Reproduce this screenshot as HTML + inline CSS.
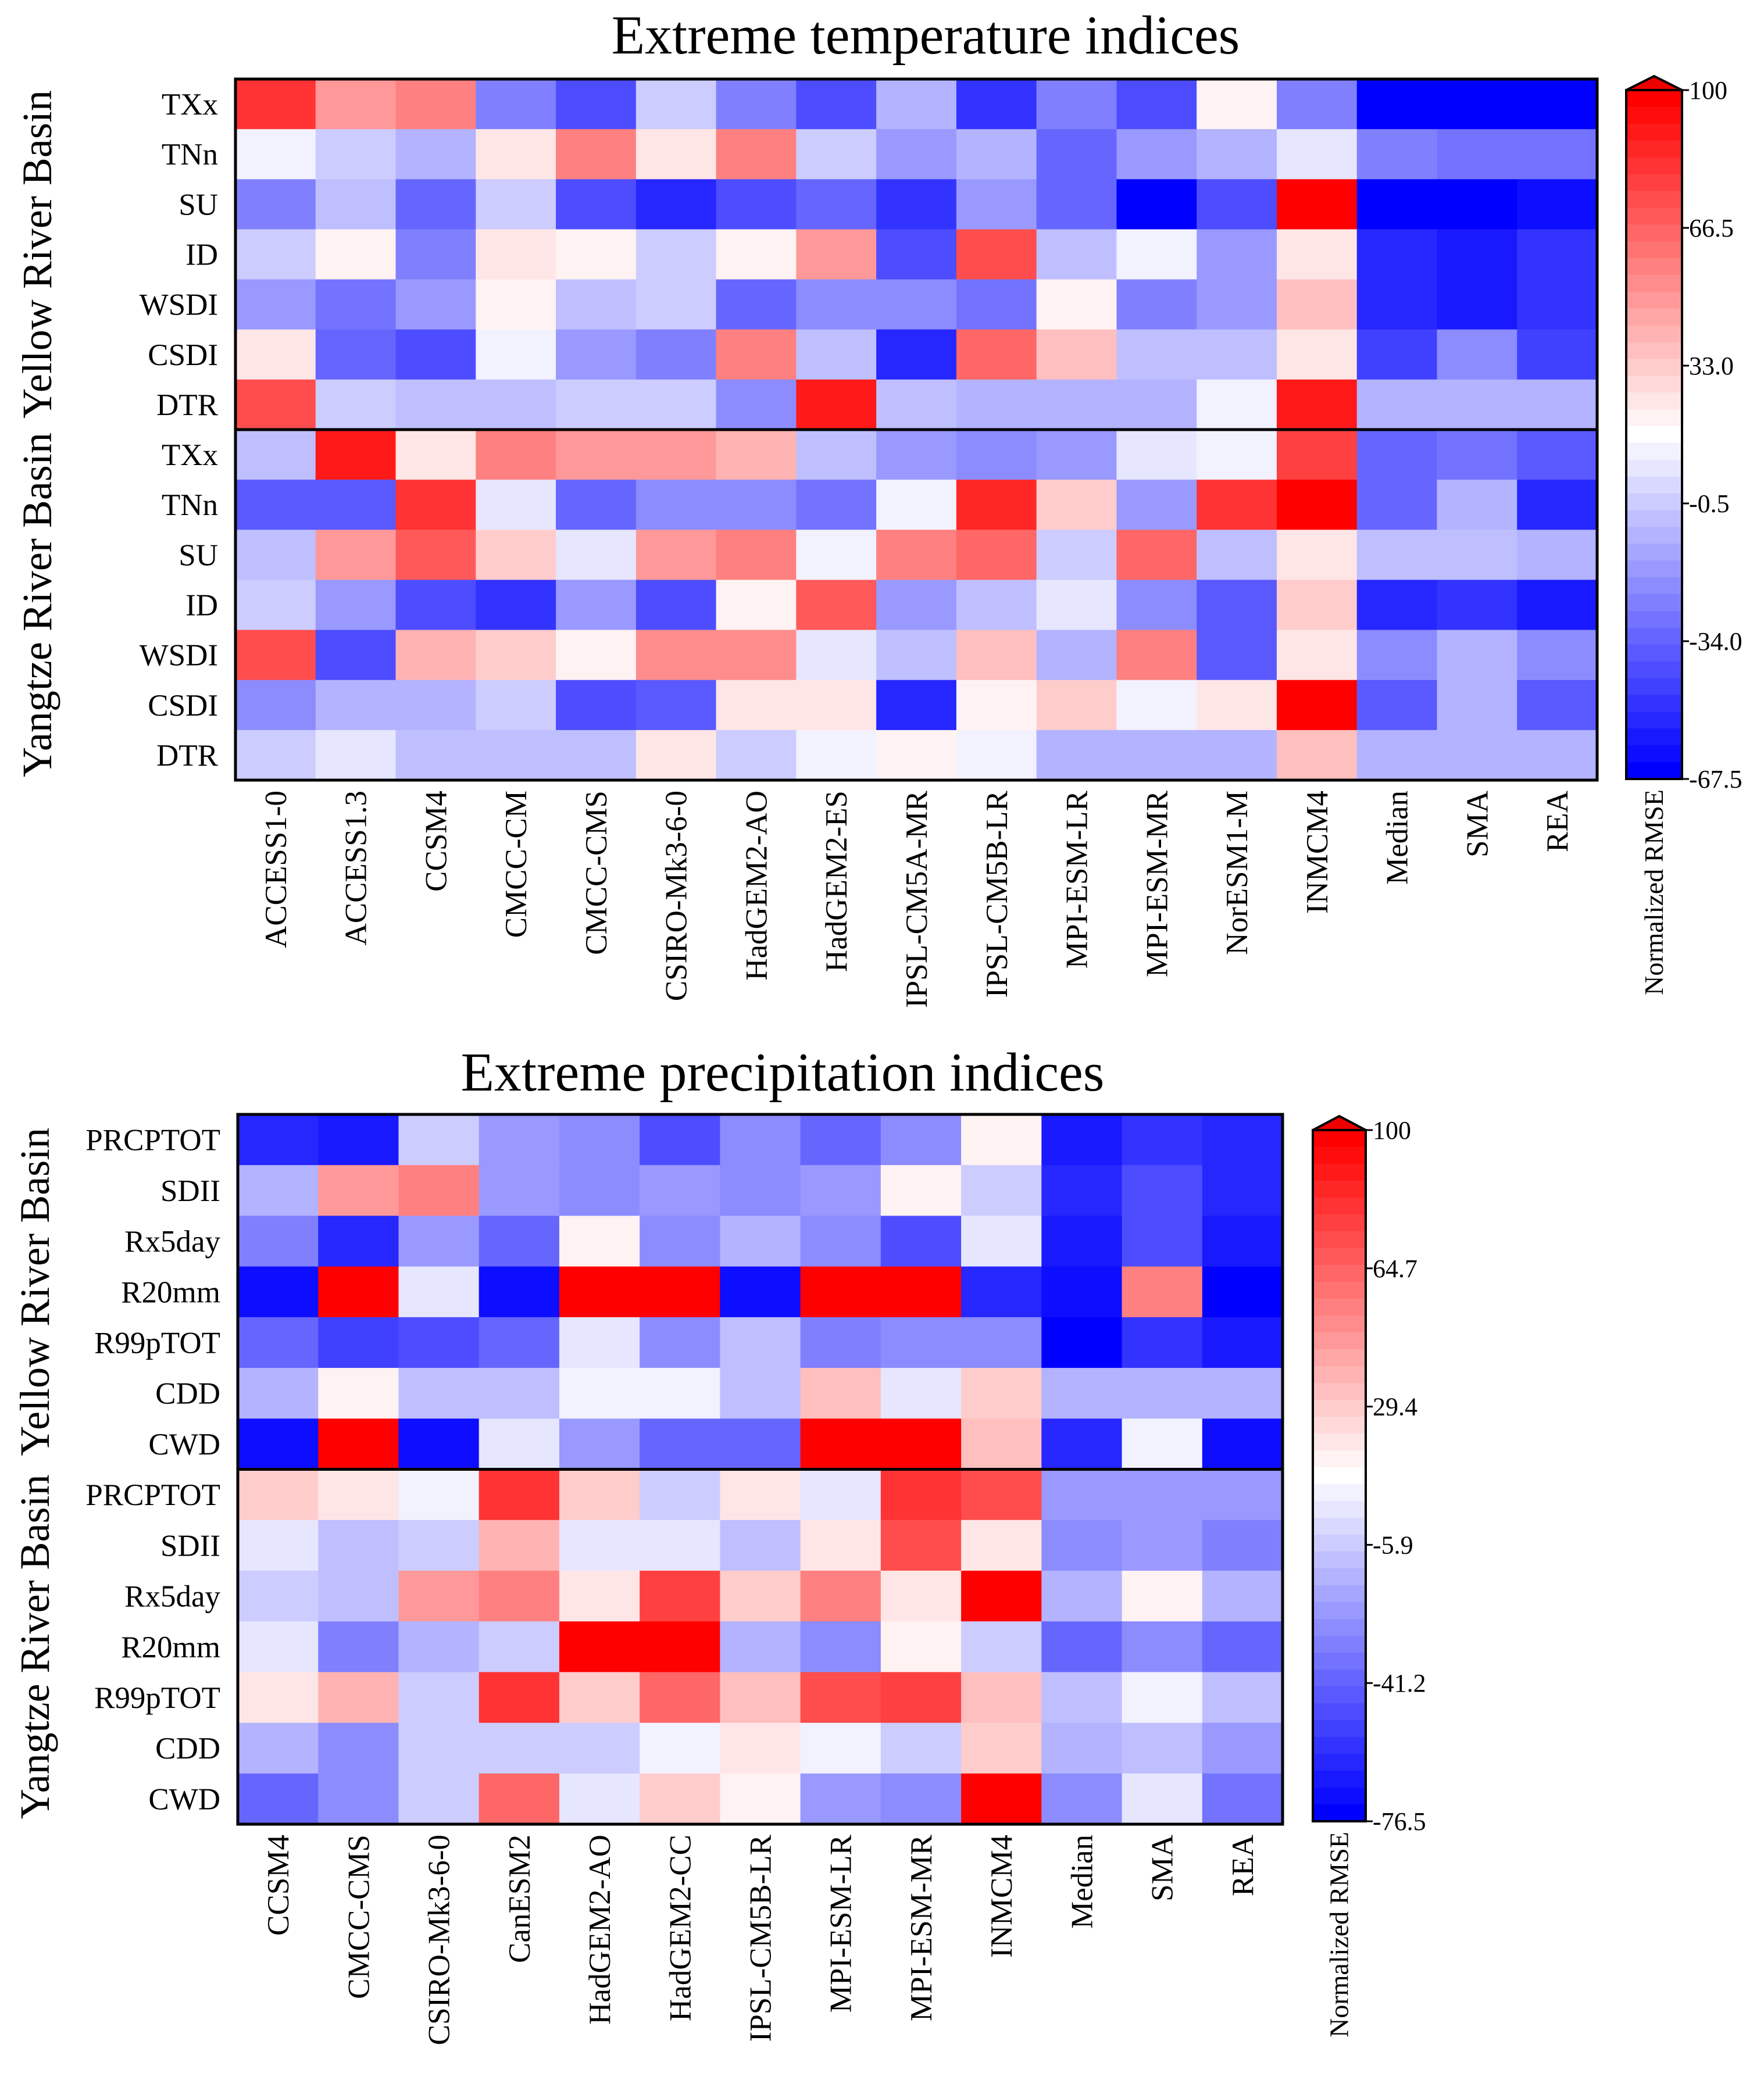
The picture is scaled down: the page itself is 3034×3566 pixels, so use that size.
<!DOCTYPE html>
<html><head><meta charset="utf-8"><style>
html,body{margin:0;padding:0;background:#fff;}
svg{display:block;font-family:"Liberation Serif","Times New Roman",serif;}
</style></head><body>
<svg id="chart" width="3034" height="3566" viewBox="0 0 3034 3566" xmlns="http://www.w3.org/2000/svg">
<rect width="3034" height="3566" fill="#fff"/>
</svg>
<script>
// ---- data (levels: -10 = full blue, 0 = white, 10 = full red) ----
const tRows = ["TXx","TNn","SU","ID","WSDI","CSDI","DTR"];
const tCols = ["ACCESS1-0","ACCESS1.3","CCSM4","CMCC-CM","CMCC-CMS","CSIRO-Mk3-6-0","HadGEM2-AO","HadGEM2-ES","IPSL-CM5A-MR","IPSL-CM5B-LR","MPI-ESM-LR","MPI-ESM-MR","NorESM1-M","INMCM4","Median","SMA","REA"];
const tYellow = [
[8,4,5,-5,-7,-2,-5,-7,-3,-8,-5,-7,0.5,-5,-10,-10,-10],
[-0.5,-2,-3,1,5,1,5,-2,-4,-3,-6,-4,-3,-1,-5,-5.5,-5.5],
[-5,-2.5,-6,-2,-7,-8.5,-7,-6,-8,-4,-6,-10,-7,10,-10,-10,-9.5],
[-2,0.5,-5,1,0.5,-2,0.5,4,-7,7,-2.5,-0.5,-4,1,-8.5,-9,-8],
[-4,-5.5,-4,0.5,-2.5,-2,-6,-4.5,-4.5,-5.5,0.5,-5,-4,2.5,-8.5,-9,-8],
[1,-6,-7,-0.5,-4,-5,5,-2.5,-8.5,6,2.5,-2.5,-2.5,1,-7.5,-4.5,-7.5],
[7,-2,-2.5,-2.5,-2,-2,-4.5,9,-2.5,-3,-3,-3,-0.5,9,-3,-3,-3]];
const tYangtze = [
[-2.5,9,1,5,4,4,3,-2.5,-4,-4.5,-4,-1,-0.5,7.5,-6,-5.5,-6.5],
[-6.5,-6.5,8,-1,-6,-4.5,-4.5,-5.5,-0.5,8.5,2,-4,8,10,-6,-3,-8.5],
[-2.5,4,6.5,2,-1,4,5,-0.5,5,6,-2,6,-2.5,1,-2.5,-2.5,-3],
[-2,-4,-7,-8,-4,-7,0.5,6.5,-4,-2.5,-1,-4.5,-6.5,2,-8.5,-8,-9],
[7,-7,3,2,0.5,4.5,4.5,-1,-2.5,2.5,-3,5,-6.5,1,-4.5,-3,-4.5],
[-4.5,-3,-3,-2,-7,-6.5,1,1,-8.5,0.5,2,-0.5,1,10,-6.5,-3,-6.5],
[-2,-1,-2.5,-2.5,-2.5,1,-2,-0.5,0.5,-0.5,-3,-3,-3,2.5,-3,-3,-3]];
const tTicks = ["100","66.5","33.0","-0.5","-34.0","-67.5"];

const pRows = ["PRCPTOT","SDII","Rx5day","R20mm","R99pTOT","CDD","CWD"];
const pCols = ["CCSM4","CMCC-CMS","CSIRO-Mk3-6-0","CanESM2","HadGEM2-AO","HadGEM2-CC","IPSL-CM5B-LR","MPI-ESM-LR","MPI-ESM-MR","INMCM4","Median","SMA","REA"];
const pYellow = [
[-8.5,-9,-2,-4,-4.5,-7,-4.5,-6,-4.5,0.5,-9,-8,-8.5],
[-3,4,5,-4,-4.5,-4,-4.5,-4,0.5,-2,-8.5,-7,-8.5],
[-5,-8.5,-4,-6,0.5,-4.5,-3,-4.5,-7,-1,-9,-7,-9],
[-9.5,10,-1,-9.5,10,10,-9.5,10,10,-8.5,-9.5,5,-10],
[-6,-7.5,-7,-6,-1,-4.5,-2.5,-5,-4.5,-4.5,-10,-8,-9],
[-3,0.5,-2.5,-2.5,-0.5,-0.5,-2.5,2.5,-1,2,-3,-3,-3],
[-9.5,10,-9.5,-1,-4,-6,-6,10,10,2.5,-8.5,-0.5,-9.5]];
const pYangtze = [
[2,1,-0.5,8,2,-2,1,-1,8,7,-4,-4,-4],
[-1,-2.5,-2,3,-1,-1,-2.5,1,7,1,-4.5,-4,-5],
[-2,-2.5,4,5,1,7.5,2,5,1,10,-3,0.5,-3],
[-1,-5,-3,-2,10,10,-3,-4.5,0.5,-2,-6,-4.5,-6],
[1,3,-2,8,2,6,2.5,7,7.5,2.5,-2.5,-0.5,-2.5],
[-3,-4.5,-2,-2,-2,-0.5,1,-0.5,-2,2,-3,-2.5,-4],
[-6,-4.5,-2,6,-1,2,0.5,-4,-4.5,10,-4.5,-1,-5.5]];
const pTicks = ["100","64.7","29.4","-5.9","-41.2","-76.5"];

const NS="http://www.w3.org/2000/svg";
const svg=document.getElementById('chart');
function mk(tag,attrs,parent){const e=document.createElementNS(NS,tag);for(const k in attrs)e.setAttribute(k,attrs[k]);(parent||svg).appendChild(e);return e;}
function color(k){k=Math.max(-10,Math.min(10,Math.round(k*2)/2));
  if(k>=0){const g=Math.round(255*(1-k/10));return `rgb(255,${g},${g})`;}
  const r=Math.round(255*(1+k/10));return `rgb(${r},${r},255)`;}

function panel(o){
  const g=mk('g',{});
  
  
  const all=o.yellow.concat(o.yangtze);
  const nR=all.length,nC=o.cols.length;
  const cw=(o.x1-o.x0)/nC, rh=(o.y1-o.y0)/nR;
  const xS=i=>o.x0+i*cw, yS=j=>o.y0+j*rh;
  all.forEach((row,j)=>row.forEach((v,i)=>{
    const r=mk('rect',{x:xS(i),y:yS(j),width:cw+0.6,height:rh+0.6,fill:color(v)},g);
    
    
  }));
  mk('rect',{x:o.x0,y:o.y0,width:o.x1-o.x0,height:o.y1-o.y0,fill:'none',stroke:'#000','stroke-width':5},g);
  mk('line',{x1:o.x0,x2:o.x1,y1:yS(7),y2:yS(7),stroke:'#000','stroke-width':5},g);
  const rowLabels=o.rows.concat(o.rows);
  rowLabels.forEach((t,j)=>{const e=mk('text',{x:o.x0-30,y:yS(j)+rh/2+18,'text-anchor':'end','font-size':53},g);e.textContent=t;
    
    });
  o.cols.forEach((t,i)=>{const cx=xS(i)+cw/2+18;const e=mk('text',{x:0,y:0,'text-anchor':'end','font-size':53,transform:`translate(${cx},${o.y1+18}) rotate(-90)`},g);e.textContent=t;
    
    });
  [['Yellow River Basin',o.y0,yS(7)],['Yangtze River Basin',yS(7),o.y1]].forEach(([t,a,b])=>{
    const e=mk('text',{x:0,y:0,'text-anchor':'middle','font-size':72,transform:`translate(${o.gx},${(a+b)/2}) rotate(-90)`},g);e.textContent=t;
    
    });
  const ti=mk('text',{x:o.tx,y:o.ty,'text-anchor':'middle','font-size':94},g);ti.textContent=o.title;
  
  
  const cb=mk('g',{},g);
  
  
  const n=41,bh=(o.cy1-o.cy0)/n;
  for(let s=0;s<n;s++){const k=10-s*0.5;mk('rect',{x:o.cx0,y:o.cy0+s*bh,width:o.cx1-o.cx0,height:bh+0.6,fill:color(k)},cb);}
  mk('polygon',{points:`${o.cx0},${o.cy0} ${(o.cx0+o.cx1)/2},${o.cy0-24} ${o.cx1},${o.cy0}`,fill:'#e00',stroke:'#000','stroke-width':4},cb);
  mk('rect',{x:o.cx0,y:o.cy0,width:o.cx1-o.cx0,height:o.cy1-o.cy0,fill:'none',stroke:'#000','stroke-width':4},cb);
  o.ticks.forEach((t,i)=>{const y=o.cy0+i*(o.cy1-o.cy0)/(o.ticks.length-1);
    mk('line',{x1:o.cx1,x2:o.cx1+12,y1:y,y2:y,stroke:'#000','stroke-width':3},cb);
    const e=mk('text',{x:o.cx1+12,y:y+15,'font-size':44},cb);e.textContent=t;
    
    });
  const ct=mk('text',{x:0,y:0,'text-anchor':'end','font-size':46,transform:`translate(${(o.cx0+o.cx1)/2+15},${o.cy1+18}) rotate(-90)`},cb);ct.textContent='Normalized RMSE';
  
  
}
panel({name:'temperature-heatmap',title:'Extreme temperature indices',tx:1592,ty:92,rows:tRows,cols:tCols,yellow:tYellow,yangtze:tYangtze,ticks:tTicks,
  x0:405,x1:2747,y0:136,y1:1342,gx:88,cx0:2797,cx1:2893,cy0:155,cy1:1340});
panel({name:'precipitation-heatmap',title:'Extreme precipitation indices',tx:1346,ty:1876,rows:pRows,cols:pCols,yellow:pYellow,yangtze:pYangtze,ticks:pTicks,
  x0:409,x1:2206,y0:1917,y1:3138,gx:84,cx0:2258,cx1:2349,cy0:1944,cy1:3133});
</script>
</body></html>
